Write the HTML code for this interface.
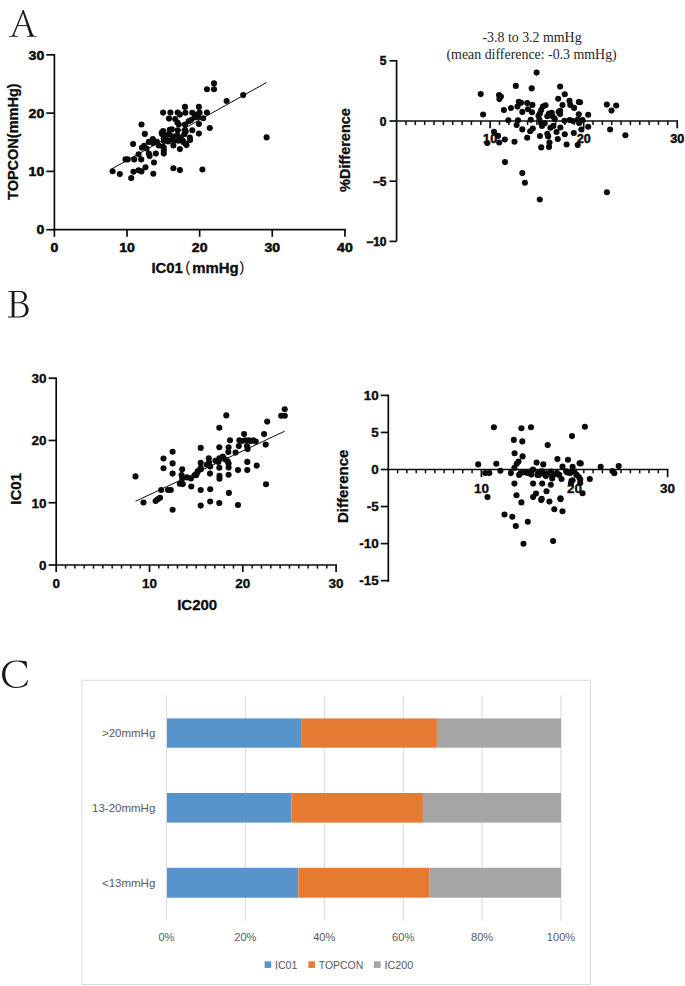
<!DOCTYPE html>
<html><head><meta charset="utf-8"><title>Figure</title>
<style>
html,body{margin:0;padding:0;background:#fff;}
body{width:685px;height:986px;overflow:hidden;}
svg{display:block;}
</style></head>
<body>
<svg width="685" height="986" viewBox="0 0 685 986">
<rect width="685" height="986" fill="#fff"/>
<g fill="#1c1716">
<polygon points="22.9,10.0 23.7,11.4 13.7,36.0 12.2,36.0"/>
<polygon points="22.9,10.0 23.7,10.0 33.3,36.0 30.1,36.0 22.5,11.6"/>
<rect x="17.2" y="25.1" width="10.9" height="1.0"/>
<path d="M9.0,35.9 H18.0 V36.8 H9.0 Z M12.0,35.9 Q12.8,35.3 13.0,34.6 L14.2,34.6 Q14.6,35.5 15.6,35.9 Z"/>
<path d="M26.9,35.9 H36.4 V36.8 H26.9 Z M29.2,35.9 Q29.8,35.4 29.6,34.5 L32.9,34.5 Q33.5,35.5 34.4,35.9 Z"/>
</g>
<path fill="#1c1716" fill-rule="evenodd" d="M8.1,291.0 L20.0,291.0 C24.6,291.0 26.9,293.4 26.9,296.7 C26.9,299.6 24.9,301.7 21.8,302.6 C26.0,303.2 28.6,305.9 28.6,309.7 C28.6,314.4 25.3,317.4 19.6,317.4 L8.1,317.4 L8.1,316.6 L11.7,316.4 L11.7,292.0 L8.1,291.8 Z M14.5,292.0 L19.3,292.0 C22.6,292.0 24.2,294.1 24.2,297.0 C24.2,300.0 22.4,302.2 19.0,302.2 L14.5,302.2 Z M14.5,303.3 L19.3,303.3 C23.5,303.3 25.7,305.8 25.7,309.8 C25.7,314.0 23.3,316.4 19.3,316.4 L14.5,316.4 Z"/>
<path fill="#1c1716" d="M26.6,661.4 C23.5,660.6 19.8,660.4 16.2,660.4 C7.8,660.4 2.0,666.2 2.0,674.2 C2.0,682.3 7.8,687.9 16.0,687.9 C20.2,687.9 24.2,686.6 27.0,684.9 L27.9,680.0 L27.3,680.0 C25.6,684.5 21.8,686.9 16.6,686.9 C9.6,686.9 5.3,681.4 5.3,674.2 C5.3,666.6 9.8,661.4 16.4,661.4 C21.6,661.4 25.2,663.7 26.6,668.3 L27.2,668.3 Z"/>
<line x1="54.40" y1="53.95" x2="54.40" y2="230.55" stroke="#0c0c0c" stroke-width="1.7"/>
<line x1="53.55" y1="229.70" x2="345.75" y2="229.70" stroke="#0c0c0c" stroke-width="1.7"/>
<line x1="46.30" y1="229.70" x2="54.40" y2="229.70" stroke="#0c0c0c" stroke-width="1.7"/>
<text transform="translate(44.20,234.40) scale(1.17,1)" font-family='"Liberation Sans", sans-serif' font-size="12" font-weight="bold" text-anchor="end" fill="#0c0c0c" stroke="#0c0c0c" stroke-width="0.5">0</text>
<line x1="46.30" y1="171.40" x2="54.40" y2="171.40" stroke="#0c0c0c" stroke-width="1.7"/>
<text transform="translate(44.20,176.10) scale(1.17,1)" font-family='"Liberation Sans", sans-serif' font-size="12" font-weight="bold" text-anchor="end" fill="#0c0c0c" stroke="#0c0c0c" stroke-width="0.5">10</text>
<line x1="46.30" y1="113.10" x2="54.40" y2="113.10" stroke="#0c0c0c" stroke-width="1.7"/>
<text transform="translate(44.20,117.80) scale(1.17,1)" font-family='"Liberation Sans", sans-serif' font-size="12" font-weight="bold" text-anchor="end" fill="#0c0c0c" stroke="#0c0c0c" stroke-width="0.5">20</text>
<line x1="46.30" y1="54.80" x2="54.40" y2="54.80" stroke="#0c0c0c" stroke-width="1.7"/>
<text transform="translate(44.20,59.50) scale(1.17,1)" font-family='"Liberation Sans", sans-serif' font-size="12" font-weight="bold" text-anchor="end" fill="#0c0c0c" stroke="#0c0c0c" stroke-width="0.5">30</text>
<line x1="54.40" y1="229.70" x2="54.40" y2="236.80" stroke="#0c0c0c" stroke-width="1.7"/>
<text transform="translate(54.40,251.80) scale(1.17,1)" font-family='"Liberation Sans", sans-serif' font-size="12" font-weight="bold" text-anchor="middle" fill="#0c0c0c" stroke="#0c0c0c" stroke-width="0.5">0</text>
<line x1="127.03" y1="229.70" x2="127.03" y2="236.80" stroke="#0c0c0c" stroke-width="1.7"/>
<text transform="translate(127.03,251.80) scale(1.17,1)" font-family='"Liberation Sans", sans-serif' font-size="12" font-weight="bold" text-anchor="middle" fill="#0c0c0c" stroke="#0c0c0c" stroke-width="0.5">10</text>
<line x1="199.65" y1="229.70" x2="199.65" y2="236.80" stroke="#0c0c0c" stroke-width="1.7"/>
<text transform="translate(199.65,251.80) scale(1.17,1)" font-family='"Liberation Sans", sans-serif' font-size="12" font-weight="bold" text-anchor="middle" fill="#0c0c0c" stroke="#0c0c0c" stroke-width="0.5">20</text>
<line x1="272.27" y1="229.70" x2="272.27" y2="236.80" stroke="#0c0c0c" stroke-width="1.7"/>
<text transform="translate(272.27,251.80) scale(1.17,1)" font-family='"Liberation Sans", sans-serif' font-size="12" font-weight="bold" text-anchor="middle" fill="#0c0c0c" stroke="#0c0c0c" stroke-width="0.5">30</text>
<line x1="344.90" y1="229.70" x2="344.90" y2="236.80" stroke="#0c0c0c" stroke-width="1.7"/>
<text transform="translate(344.90,251.80) scale(1.17,1)" font-family='"Liberation Sans", sans-serif' font-size="12" font-weight="bold" text-anchor="middle" fill="#0c0c0c" stroke="#0c0c0c" stroke-width="0.5">40</text>
<line x1="111.70" y1="168.90" x2="266.60" y2="82.50" stroke="#0c0c0c" stroke-width="1.0"/>
<g fill="#0a0a0a">
<circle cx="112.6" cy="171.2" r="3.05"/>
<circle cx="119.8" cy="174.1" r="3.05"/>
<circle cx="131.2" cy="178.0" r="3.05"/>
<circle cx="133.4" cy="171.7" r="3.05"/>
<circle cx="138.5" cy="170.2" r="3.05"/>
<circle cx="141.5" cy="171.4" r="3.05"/>
<circle cx="145.5" cy="167.3" r="3.05"/>
<circle cx="153.3" cy="173.7" r="3.05"/>
<circle cx="154.0" cy="162.5" r="3.05"/>
<circle cx="173.4" cy="168.3" r="3.05"/>
<circle cx="179.9" cy="170.1" r="3.05"/>
<circle cx="202.4" cy="169.5" r="3.05"/>
<circle cx="141.5" cy="124.5" r="3.05"/>
<circle cx="144.8" cy="133.9" r="3.05"/>
<circle cx="133.1" cy="144.1" r="3.05"/>
<circle cx="125.5" cy="159.4" r="3.05"/>
<circle cx="127.7" cy="159.4" r="3.05"/>
<circle cx="134.2" cy="159.4" r="3.05"/>
<circle cx="141.2" cy="159.4" r="3.05"/>
<circle cx="138.6" cy="154.3" r="3.05"/>
<circle cx="141.9" cy="147.7" r="3.05"/>
<circle cx="144.1" cy="145.9" r="3.05"/>
<circle cx="148.8" cy="141.9" r="3.05"/>
<circle cx="146.5" cy="148.5" r="3.05"/>
<circle cx="152.8" cy="139.0" r="3.05"/>
<circle cx="156.9" cy="141.9" r="3.05"/>
<circle cx="158.7" cy="145.5" r="3.05"/>
<circle cx="148.8" cy="153.6" r="3.05"/>
<circle cx="149.6" cy="156.1" r="3.05"/>
<circle cx="155.8" cy="153.6" r="3.05"/>
<circle cx="163.8" cy="147.7" r="3.05"/>
<circle cx="163.8" cy="150.5" r="3.05"/>
<circle cx="163.8" cy="153.6" r="3.05"/>
<circle cx="163.1" cy="131.0" r="3.05"/>
<circle cx="162.0" cy="134.0" r="3.05"/>
<circle cx="163.8" cy="138.2" r="3.05"/>
<circle cx="167.4" cy="140.4" r="3.05"/>
<circle cx="173.4" cy="145.5" r="3.05"/>
<circle cx="179.9" cy="149.1" r="3.05"/>
<circle cx="186.5" cy="145.1" r="3.05"/>
<circle cx="183.6" cy="142.2" r="3.05"/>
<circle cx="178.5" cy="140.7" r="3.05"/>
<circle cx="190.1" cy="140.0" r="3.05"/>
<circle cx="152.9" cy="142.9" r="3.05"/>
<circle cx="168.2" cy="141.5" r="3.05"/>
<circle cx="185.0" cy="106.9" r="3.05"/>
<circle cx="198.9" cy="106.9" r="3.05"/>
<circle cx="163.1" cy="112.6" r="3.05"/>
<circle cx="170.4" cy="112.6" r="3.05"/>
<circle cx="177.7" cy="112.6" r="3.05"/>
<circle cx="179.9" cy="114.6" r="3.05"/>
<circle cx="185.4" cy="112.8" r="3.05"/>
<circle cx="192.3" cy="112.8" r="3.05"/>
<circle cx="196.7" cy="114.6" r="3.05"/>
<circle cx="169.0" cy="118.6" r="3.05"/>
<circle cx="175.2" cy="119.1" r="3.05"/>
<circle cx="177.4" cy="122.6" r="3.05"/>
<circle cx="178.8" cy="124.5" r="3.05"/>
<circle cx="185.0" cy="124.5" r="3.05"/>
<circle cx="188.7" cy="121.2" r="3.05"/>
<circle cx="190.9" cy="120.1" r="3.05"/>
<circle cx="194.5" cy="117.5" r="3.05"/>
<circle cx="198.9" cy="124.1" r="3.05"/>
<circle cx="161.7" cy="132.8" r="3.05"/>
<circle cx="169.7" cy="129.9" r="3.05"/>
<circle cx="171.9" cy="129.2" r="3.05"/>
<circle cx="177.7" cy="130.3" r="3.05"/>
<circle cx="185.0" cy="129.9" r="3.05"/>
<circle cx="192.3" cy="130.3" r="3.05"/>
<circle cx="198.9" cy="133.6" r="3.05"/>
<circle cx="163.9" cy="136.5" r="3.05"/>
<circle cx="166.5" cy="135.0" r="3.05"/>
<circle cx="169.5" cy="134.0" r="3.05"/>
<circle cx="172.6" cy="136.5" r="3.05"/>
<circle cx="177.7" cy="135.8" r="3.05"/>
<circle cx="180.7" cy="138.0" r="3.05"/>
<circle cx="184.3" cy="134.3" r="3.05"/>
<circle cx="189.8" cy="137.6" r="3.05"/>
<circle cx="163.9" cy="140.9" r="3.05"/>
<circle cx="169.0" cy="140.9" r="3.05"/>
<circle cx="174.0" cy="140.9" r="3.05"/>
<circle cx="182.8" cy="140.9" r="3.05"/>
<circle cx="185.8" cy="143.8" r="3.05"/>
<circle cx="163.1" cy="146.7" r="3.05"/>
<circle cx="226.6" cy="101.0" r="3.05"/>
<circle cx="199.6" cy="112.5" r="3.05"/>
<circle cx="206.9" cy="112.5" r="3.05"/>
<circle cx="196.0" cy="115.8" r="3.05"/>
<circle cx="198.1" cy="116.9" r="3.05"/>
<circle cx="203.2" cy="118.2" r="3.05"/>
<circle cx="209.8" cy="128.0" r="3.05"/>
<circle cx="185.7" cy="131.5" r="3.05"/>
<circle cx="214.0" cy="83.4" r="3.05"/>
<circle cx="207.0" cy="89.3" r="3.05"/>
<circle cx="214.0" cy="89.3" r="3.05"/>
<circle cx="243.2" cy="95.1" r="3.05"/>
<circle cx="266.6" cy="137.4" r="3.05"/>
</g>
<text transform="translate(151.40,272.80) scale(1.03,1)" font-family='"Liberation Sans", sans-serif' font-size="14.5" font-weight="bold" text-anchor="start" fill="#0c0c0c" stroke="#0c0c0c" stroke-width="0.3">IC01</text>
<text transform="translate(185.30,272.30) scale(1.0,1)" font-family='"Liberation Sans", sans-serif' font-size="14.5" font-weight="normal" text-anchor="start" fill="#0c0c0c">(</text>
<text transform="translate(192.20,272.80) scale(1.03,1)" font-family='"Liberation Sans", sans-serif' font-size="14.5" font-weight="bold" text-anchor="start" fill="#0c0c0c" stroke="#0c0c0c" stroke-width="0.3">mmHg</text>
<text transform="translate(239.60,272.30) scale(1.0,1)" font-family='"Liberation Sans", sans-serif' font-size="14.5" font-weight="normal" text-anchor="start" fill="#0c0c0c">)</text>
<text transform="translate(18.3,141.7) rotate(-90)" font-family='"Liberation Sans", sans-serif' font-size="14.5" font-weight="bold" text-anchor="middle" fill="#0c0c0c" stroke="#0c0c0c" stroke-width="0.3">TOPCON(mmHg)</text>
<line x1="396.60" y1="59.95" x2="396.60" y2="241.25" stroke="#0c0c0c" stroke-width="1.7"/>
<line x1="396.60" y1="121.00" x2="678.05" y2="121.00" stroke="#0c0c0c" stroke-width="1.7"/>
<line x1="389.50" y1="60.80" x2="396.60" y2="60.80" stroke="#0c0c0c" stroke-width="1.7"/>
<text transform="translate(386.50,65.30) scale(1.0,1)" font-family='"Liberation Sans", sans-serif' font-size="12" font-weight="bold" text-anchor="end" fill="#0c0c0c" stroke="#0c0c0c" stroke-width="0.5">5</text>
<line x1="389.50" y1="121.00" x2="396.60" y2="121.00" stroke="#0c0c0c" stroke-width="1.7"/>
<text transform="translate(386.50,125.50) scale(1.0,1)" font-family='"Liberation Sans", sans-serif' font-size="12" font-weight="bold" text-anchor="end" fill="#0c0c0c" stroke="#0c0c0c" stroke-width="0.5">0</text>
<line x1="389.50" y1="181.20" x2="396.60" y2="181.20" stroke="#0c0c0c" stroke-width="1.7"/>
<text transform="translate(386.50,185.70) scale(1.0,1)" font-family='"Liberation Sans", sans-serif' font-size="12" font-weight="bold" text-anchor="end" fill="#0c0c0c" stroke="#0c0c0c" stroke-width="0.5">−5</text>
<line x1="389.50" y1="241.40" x2="396.60" y2="241.40" stroke="#0c0c0c" stroke-width="1.7"/>
<text transform="translate(386.50,245.90) scale(1.0,1)" font-family='"Liberation Sans", sans-serif' font-size="12" font-weight="bold" text-anchor="end" fill="#0c0c0c" stroke="#0c0c0c" stroke-width="0.5">−10</text>
<line x1="405.95" y1="121.00" x2="405.95" y2="125.00" stroke="#0c0c0c" stroke-width="1.5"/>
<line x1="415.31" y1="121.00" x2="415.31" y2="125.00" stroke="#0c0c0c" stroke-width="1.5"/>
<line x1="424.66" y1="121.00" x2="424.66" y2="125.00" stroke="#0c0c0c" stroke-width="1.5"/>
<line x1="434.01" y1="121.00" x2="434.01" y2="125.00" stroke="#0c0c0c" stroke-width="1.5"/>
<line x1="443.37" y1="121.00" x2="443.37" y2="125.00" stroke="#0c0c0c" stroke-width="1.5"/>
<line x1="452.72" y1="121.00" x2="452.72" y2="125.00" stroke="#0c0c0c" stroke-width="1.5"/>
<line x1="462.07" y1="121.00" x2="462.07" y2="125.00" stroke="#0c0c0c" stroke-width="1.5"/>
<line x1="471.43" y1="121.00" x2="471.43" y2="125.00" stroke="#0c0c0c" stroke-width="1.5"/>
<line x1="480.78" y1="121.00" x2="480.78" y2="125.00" stroke="#0c0c0c" stroke-width="1.5"/>
<line x1="490.13" y1="121.00" x2="490.13" y2="128.30" stroke="#0c0c0c" stroke-width="1.7"/>
<line x1="499.49" y1="121.00" x2="499.49" y2="125.00" stroke="#0c0c0c" stroke-width="1.5"/>
<line x1="508.84" y1="121.00" x2="508.84" y2="125.00" stroke="#0c0c0c" stroke-width="1.5"/>
<line x1="518.19" y1="121.00" x2="518.19" y2="125.00" stroke="#0c0c0c" stroke-width="1.5"/>
<line x1="527.55" y1="121.00" x2="527.55" y2="125.00" stroke="#0c0c0c" stroke-width="1.5"/>
<line x1="536.90" y1="121.00" x2="536.90" y2="125.00" stroke="#0c0c0c" stroke-width="1.5"/>
<line x1="546.25" y1="121.00" x2="546.25" y2="125.00" stroke="#0c0c0c" stroke-width="1.5"/>
<line x1="555.61" y1="121.00" x2="555.61" y2="125.00" stroke="#0c0c0c" stroke-width="1.5"/>
<line x1="564.96" y1="121.00" x2="564.96" y2="125.00" stroke="#0c0c0c" stroke-width="1.5"/>
<line x1="574.31" y1="121.00" x2="574.31" y2="125.00" stroke="#0c0c0c" stroke-width="1.5"/>
<line x1="583.67" y1="121.00" x2="583.67" y2="128.30" stroke="#0c0c0c" stroke-width="1.7"/>
<line x1="593.02" y1="121.00" x2="593.02" y2="125.00" stroke="#0c0c0c" stroke-width="1.5"/>
<line x1="602.37" y1="121.00" x2="602.37" y2="125.00" stroke="#0c0c0c" stroke-width="1.5"/>
<line x1="611.73" y1="121.00" x2="611.73" y2="125.00" stroke="#0c0c0c" stroke-width="1.5"/>
<line x1="621.08" y1="121.00" x2="621.08" y2="125.00" stroke="#0c0c0c" stroke-width="1.5"/>
<line x1="630.43" y1="121.00" x2="630.43" y2="125.00" stroke="#0c0c0c" stroke-width="1.5"/>
<line x1="639.79" y1="121.00" x2="639.79" y2="125.00" stroke="#0c0c0c" stroke-width="1.5"/>
<line x1="649.14" y1="121.00" x2="649.14" y2="125.00" stroke="#0c0c0c" stroke-width="1.5"/>
<line x1="658.49" y1="121.00" x2="658.49" y2="125.00" stroke="#0c0c0c" stroke-width="1.5"/>
<line x1="667.85" y1="121.00" x2="667.85" y2="125.00" stroke="#0c0c0c" stroke-width="1.5"/>
<line x1="677.20" y1="121.00" x2="677.20" y2="128.30" stroke="#0c0c0c" stroke-width="1.7"/>
<text transform="translate(490.13,143.00) scale(1.05,1)" font-family='"Liberation Sans", sans-serif' font-size="12" font-weight="bold" text-anchor="middle" fill="#0c0c0c" stroke="#0c0c0c" stroke-width="0.5">10</text>
<text transform="translate(583.67,143.00) scale(1.05,1)" font-family='"Liberation Sans", sans-serif' font-size="12" font-weight="bold" text-anchor="middle" fill="#0c0c0c" stroke="#0c0c0c" stroke-width="0.5">20</text>
<text transform="translate(677.20,143.00) scale(1.05,1)" font-family='"Liberation Sans", sans-serif' font-size="12" font-weight="bold" text-anchor="middle" fill="#0c0c0c" stroke="#0c0c0c" stroke-width="0.5">30</text>
<g fill="#0a0a0a">
<circle cx="536.6" cy="72.6" r="3.05"/>
<circle cx="515.8" cy="85.9" r="3.05"/>
<circle cx="531.7" cy="88.4" r="3.05"/>
<circle cx="480.7" cy="94.1" r="3.05"/>
<circle cx="499.0" cy="95.0" r="3.05"/>
<circle cx="499.4" cy="99.1" r="3.05"/>
<circle cx="483.1" cy="114.5" r="3.05"/>
<circle cx="494.0" cy="131.8" r="3.05"/>
<circle cx="498.0" cy="135.9" r="3.05"/>
<circle cx="560.1" cy="86.6" r="3.05"/>
<circle cx="564.8" cy="94.2" r="3.05"/>
<circle cx="562.5" cy="105.0" r="3.05"/>
<circle cx="569.5" cy="100.9" r="3.05"/>
<circle cx="570.3" cy="105.0" r="3.05"/>
<circle cx="574.1" cy="107.9" r="3.05"/>
<circle cx="578.8" cy="102.0" r="3.05"/>
<circle cx="606.8" cy="104.6" r="3.05"/>
<circle cx="560.1" cy="110.8" r="3.05"/>
<circle cx="560.1" cy="114.0" r="3.05"/>
<circle cx="578.8" cy="114.3" r="3.05"/>
<circle cx="588.2" cy="114.7" r="3.05"/>
<circle cx="564.5" cy="120.7" r="3.05"/>
<circle cx="569.7" cy="120.1" r="3.05"/>
<circle cx="577.9" cy="119.6" r="3.05"/>
<circle cx="582.6" cy="120.1" r="3.05"/>
<circle cx="579.1" cy="123.1" r="3.05"/>
<circle cx="560.4" cy="127.5" r="3.05"/>
<circle cx="581.4" cy="129.5" r="3.05"/>
<circle cx="588.2" cy="126.8" r="3.05"/>
<circle cx="564.8" cy="134.2" r="3.05"/>
<circle cx="573.8" cy="133.0" r="3.05"/>
<circle cx="499.2" cy="142.5" r="3.05"/>
<circle cx="487.3" cy="143.1" r="3.05"/>
<circle cx="505.0" cy="162.1" r="3.05"/>
<circle cx="522.3" cy="173.1" r="3.05"/>
<circle cx="524.9" cy="182.8" r="3.05"/>
<circle cx="539.8" cy="199.5" r="3.05"/>
<circle cx="610.1" cy="129.5" r="3.05"/>
<circle cx="625.4" cy="135.3" r="3.05"/>
<circle cx="606.9" cy="192.3" r="3.05"/>
<circle cx="577.7" cy="145.1" r="3.05"/>
<circle cx="566.6" cy="144.5" r="3.05"/>
<circle cx="616.2" cy="105.5" r="3.05"/>
<circle cx="611.5" cy="110.6" r="3.05"/>
<circle cx="580.0" cy="102.2" r="3.05"/>
<circle cx="573.0" cy="121.0" r="3.05"/>
<circle cx="503.9" cy="110.1" r="3.05"/>
<circle cx="510.9" cy="108.0" r="3.05"/>
<circle cx="518.8" cy="101.8" r="3.05"/>
<circle cx="521.0" cy="102.7" r="3.05"/>
<circle cx="517.5" cy="106.6" r="3.05"/>
<circle cx="527.2" cy="103.1" r="3.05"/>
<circle cx="532.4" cy="104.9" r="3.05"/>
<circle cx="522.3" cy="111.9" r="3.05"/>
<circle cx="528.0" cy="109.3" r="3.05"/>
<circle cx="532.0" cy="112.3" r="3.05"/>
<circle cx="508.3" cy="120.2" r="3.05"/>
<circle cx="518.0" cy="120.2" r="3.05"/>
<circle cx="530.7" cy="119.8" r="3.05"/>
<circle cx="516.6" cy="125.0" r="3.05"/>
<circle cx="522.3" cy="129.4" r="3.05"/>
<circle cx="530.2" cy="131.2" r="3.05"/>
<circle cx="532.8" cy="128.5" r="3.05"/>
<circle cx="527.2" cy="137.7" r="3.05"/>
<circle cx="514.5" cy="141.7" r="3.05"/>
<circle cx="504.8" cy="139.5" r="3.05"/>
<circle cx="539.9" cy="136.0" r="3.05"/>
<circle cx="542.9" cy="106.6" r="3.05"/>
<circle cx="545.5" cy="105.3" r="3.05"/>
<circle cx="541.2" cy="110.1" r="3.05"/>
<circle cx="539.9" cy="113.6" r="3.05"/>
<circle cx="538.5" cy="115.8" r="3.05"/>
<circle cx="539.4" cy="119.8" r="3.05"/>
<circle cx="541.2" cy="123.3" r="3.05"/>
<circle cx="542.0" cy="125.9" r="3.05"/>
<circle cx="544.7" cy="123.3" r="3.05"/>
<circle cx="547.3" cy="116.3" r="3.05"/>
<circle cx="549.0" cy="113.6" r="3.05"/>
<circle cx="551.7" cy="112.8" r="3.05"/>
<circle cx="552.6" cy="116.3" r="3.05"/>
<circle cx="554.7" cy="118.9" r="3.05"/>
<circle cx="550.4" cy="127.7" r="3.05"/>
<circle cx="553.4" cy="125.9" r="3.05"/>
<circle cx="547.3" cy="133.8" r="3.05"/>
<circle cx="548.2" cy="136.4" r="3.05"/>
<circle cx="549.5" cy="142.6" r="3.05"/>
<circle cx="549.0" cy="146.9" r="3.05"/>
<circle cx="556.5" cy="132.0" r="3.05"/>
<circle cx="557.8" cy="139.0" r="3.05"/>
<circle cx="558.2" cy="98.8" r="3.05"/>
<circle cx="558.7" cy="111.9" r="3.05"/>
<circle cx="541.2" cy="147.4" r="3.05"/>
<circle cx="500.9" cy="96.6" r="3.05"/>
</g>
<text transform="translate(350.0,150.0) rotate(-90)" font-family='"Liberation Sans", sans-serif' font-size="14.5" font-weight="bold" text-anchor="middle" fill="#0c0c0c" stroke="#0c0c0c" stroke-width="0.3">%Difference</text>
<text transform="translate(532.00,41.60) scale(1.0,1)" font-family='"Liberation Serif", serif' font-size="13.9" font-weight="normal" text-anchor="middle" fill="#262626">-3.8 to 3.2 mmHg</text>
<text transform="translate(531.60,58.60) scale(1.0,1)" font-family='"Liberation Serif", serif' font-size="13.9" font-weight="normal" text-anchor="middle" fill="#262626">(mean difference: -0.3 mmHg)</text>
<line x1="56.20" y1="377.35" x2="56.20" y2="565.85" stroke="#0c0c0c" stroke-width="1.7"/>
<line x1="55.35" y1="565.00" x2="336.95" y2="565.00" stroke="#0c0c0c" stroke-width="1.7"/>
<line x1="48.60" y1="565.00" x2="56.20" y2="565.00" stroke="#0c0c0c" stroke-width="1.7"/>
<text transform="translate(46.60,569.80) scale(1.0,1)" font-family='"Liberation Sans", sans-serif' font-size="13.5" font-weight="bold" text-anchor="end" fill="#0c0c0c" stroke="#0c0c0c" stroke-width="0.35">0</text>
<line x1="48.60" y1="502.73" x2="56.20" y2="502.73" stroke="#0c0c0c" stroke-width="1.7"/>
<text transform="translate(46.60,507.53) scale(1.0,1)" font-family='"Liberation Sans", sans-serif' font-size="13.5" font-weight="bold" text-anchor="end" fill="#0c0c0c" stroke="#0c0c0c" stroke-width="0.35">10</text>
<line x1="48.60" y1="440.47" x2="56.20" y2="440.47" stroke="#0c0c0c" stroke-width="1.7"/>
<text transform="translate(46.60,445.27) scale(1.0,1)" font-family='"Liberation Sans", sans-serif' font-size="13.5" font-weight="bold" text-anchor="end" fill="#0c0c0c" stroke="#0c0c0c" stroke-width="0.35">20</text>
<line x1="48.60" y1="378.20" x2="56.20" y2="378.20" stroke="#0c0c0c" stroke-width="1.7"/>
<text transform="translate(46.60,383.00) scale(1.0,1)" font-family='"Liberation Sans", sans-serif' font-size="13.5" font-weight="bold" text-anchor="end" fill="#0c0c0c" stroke="#0c0c0c" stroke-width="0.35">30</text>
<line x1="56.20" y1="565.00" x2="56.20" y2="572.00" stroke="#0c0c0c" stroke-width="1.7"/>
<line x1="65.53" y1="565.00" x2="65.53" y2="568.60" stroke="#0c0c0c" stroke-width="1.5"/>
<line x1="74.86" y1="565.00" x2="74.86" y2="568.60" stroke="#0c0c0c" stroke-width="1.5"/>
<line x1="84.19" y1="565.00" x2="84.19" y2="568.60" stroke="#0c0c0c" stroke-width="1.5"/>
<line x1="93.52" y1="565.00" x2="93.52" y2="568.60" stroke="#0c0c0c" stroke-width="1.5"/>
<line x1="102.85" y1="565.00" x2="102.85" y2="568.60" stroke="#0c0c0c" stroke-width="1.5"/>
<line x1="112.18" y1="565.00" x2="112.18" y2="568.60" stroke="#0c0c0c" stroke-width="1.5"/>
<line x1="121.51" y1="565.00" x2="121.51" y2="568.60" stroke="#0c0c0c" stroke-width="1.5"/>
<line x1="130.84" y1="565.00" x2="130.84" y2="568.60" stroke="#0c0c0c" stroke-width="1.5"/>
<line x1="140.17" y1="565.00" x2="140.17" y2="568.60" stroke="#0c0c0c" stroke-width="1.5"/>
<line x1="149.50" y1="565.00" x2="149.50" y2="572.00" stroke="#0c0c0c" stroke-width="1.7"/>
<line x1="158.83" y1="565.00" x2="158.83" y2="568.60" stroke="#0c0c0c" stroke-width="1.5"/>
<line x1="168.16" y1="565.00" x2="168.16" y2="568.60" stroke="#0c0c0c" stroke-width="1.5"/>
<line x1="177.49" y1="565.00" x2="177.49" y2="568.60" stroke="#0c0c0c" stroke-width="1.5"/>
<line x1="186.82" y1="565.00" x2="186.82" y2="568.60" stroke="#0c0c0c" stroke-width="1.5"/>
<line x1="196.15" y1="565.00" x2="196.15" y2="568.60" stroke="#0c0c0c" stroke-width="1.5"/>
<line x1="205.48" y1="565.00" x2="205.48" y2="568.60" stroke="#0c0c0c" stroke-width="1.5"/>
<line x1="214.81" y1="565.00" x2="214.81" y2="568.60" stroke="#0c0c0c" stroke-width="1.5"/>
<line x1="224.14" y1="565.00" x2="224.14" y2="568.60" stroke="#0c0c0c" stroke-width="1.5"/>
<line x1="233.47" y1="565.00" x2="233.47" y2="568.60" stroke="#0c0c0c" stroke-width="1.5"/>
<line x1="242.80" y1="565.00" x2="242.80" y2="572.00" stroke="#0c0c0c" stroke-width="1.7"/>
<line x1="252.13" y1="565.00" x2="252.13" y2="568.60" stroke="#0c0c0c" stroke-width="1.5"/>
<line x1="261.46" y1="565.00" x2="261.46" y2="568.60" stroke="#0c0c0c" stroke-width="1.5"/>
<line x1="270.79" y1="565.00" x2="270.79" y2="568.60" stroke="#0c0c0c" stroke-width="1.5"/>
<line x1="280.12" y1="565.00" x2="280.12" y2="568.60" stroke="#0c0c0c" stroke-width="1.5"/>
<line x1="289.45" y1="565.00" x2="289.45" y2="568.60" stroke="#0c0c0c" stroke-width="1.5"/>
<line x1="298.78" y1="565.00" x2="298.78" y2="568.60" stroke="#0c0c0c" stroke-width="1.5"/>
<line x1="308.11" y1="565.00" x2="308.11" y2="568.60" stroke="#0c0c0c" stroke-width="1.5"/>
<line x1="317.44" y1="565.00" x2="317.44" y2="568.60" stroke="#0c0c0c" stroke-width="1.5"/>
<line x1="326.77" y1="565.00" x2="326.77" y2="568.60" stroke="#0c0c0c" stroke-width="1.5"/>
<line x1="336.10" y1="565.00" x2="336.10" y2="572.00" stroke="#0c0c0c" stroke-width="1.7"/>
<text transform="translate(56.20,588.30) scale(1.0,1)" font-family='"Liberation Sans", sans-serif' font-size="13.5" font-weight="bold" text-anchor="middle" fill="#0c0c0c" stroke="#0c0c0c" stroke-width="0.35">0</text>
<text transform="translate(149.50,588.30) scale(1.0,1)" font-family='"Liberation Sans", sans-serif' font-size="13.5" font-weight="bold" text-anchor="middle" fill="#0c0c0c" stroke="#0c0c0c" stroke-width="0.35">10</text>
<text transform="translate(242.80,588.30) scale(1.0,1)" font-family='"Liberation Sans", sans-serif' font-size="13.5" font-weight="bold" text-anchor="middle" fill="#0c0c0c" stroke="#0c0c0c" stroke-width="0.35">20</text>
<text transform="translate(336.10,588.30) scale(1.0,1)" font-family='"Liberation Sans", sans-serif' font-size="13.5" font-weight="bold" text-anchor="middle" fill="#0c0c0c" stroke="#0c0c0c" stroke-width="0.35">30</text>
<line x1="135.50" y1="501.30" x2="284.70" y2="431.20" stroke="#0c0c0c" stroke-width="1.0"/>
<g fill="#0a0a0a">
<circle cx="135.5" cy="476.4" r="3.05"/>
<circle cx="143.5" cy="502.5" r="3.05"/>
<circle cx="155.6" cy="501.0" r="3.05"/>
<circle cx="157.7" cy="499.3" r="3.05"/>
<circle cx="160.0" cy="497.8" r="3.05"/>
<circle cx="161.2" cy="490.0" r="3.05"/>
<circle cx="168.0" cy="490.0" r="3.05"/>
<circle cx="170.8" cy="490.0" r="3.05"/>
<circle cx="172.6" cy="509.8" r="3.05"/>
<circle cx="163.5" cy="458.5" r="3.05"/>
<circle cx="163.5" cy="468.3" r="3.05"/>
<circle cx="172.6" cy="451.7" r="3.05"/>
<circle cx="172.6" cy="463.4" r="3.05"/>
<circle cx="172.6" cy="473.6" r="3.05"/>
<circle cx="182.2" cy="469.2" r="3.05"/>
<circle cx="181.6" cy="475.0" r="3.05"/>
<circle cx="182.2" cy="478.5" r="3.05"/>
<circle cx="179.9" cy="483.8" r="3.05"/>
<circle cx="182.8" cy="484.1" r="3.05"/>
<circle cx="186.9" cy="477.4" r="3.05"/>
<circle cx="191.0" cy="478.5" r="3.05"/>
<circle cx="194.8" cy="475.0" r="3.05"/>
<circle cx="198.0" cy="471.0" r="3.05"/>
<circle cx="200.9" cy="469.2" r="3.05"/>
<circle cx="200.7" cy="462.8" r="3.05"/>
<circle cx="200.7" cy="447.9" r="3.05"/>
<circle cx="191.3" cy="486.5" r="3.05"/>
<circle cx="200.7" cy="490.0" r="3.05"/>
<circle cx="200.7" cy="505.6" r="3.05"/>
<circle cx="226.3" cy="415.4" r="3.05"/>
<circle cx="267.2" cy="421.6" r="3.05"/>
<circle cx="219.3" cy="427.8" r="3.05"/>
<circle cx="244.1" cy="434.1" r="3.05"/>
<circle cx="264.1" cy="434.1" r="3.05"/>
<circle cx="230.0" cy="440.3" r="3.05"/>
<circle cx="239.4" cy="440.3" r="3.05"/>
<circle cx="245.2" cy="440.3" r="3.05"/>
<circle cx="248.7" cy="440.3" r="3.05"/>
<circle cx="253.4" cy="440.3" r="3.05"/>
<circle cx="255.7" cy="441.5" r="3.05"/>
<circle cx="265.7" cy="444.6" r="3.05"/>
<circle cx="238.8" cy="446.1" r="3.05"/>
<circle cx="247.0" cy="446.1" r="3.05"/>
<circle cx="247.6" cy="449.1" r="3.05"/>
<circle cx="219.3" cy="447.3" r="3.05"/>
<circle cx="228.6" cy="447.3" r="3.05"/>
<circle cx="228.3" cy="452.0" r="3.05"/>
<circle cx="235.6" cy="452.6" r="3.05"/>
<circle cx="222.8" cy="456.6" r="3.05"/>
<circle cx="219.3" cy="458.4" r="3.05"/>
<circle cx="208.8" cy="458.4" r="3.05"/>
<circle cx="225.4" cy="459.6" r="3.05"/>
<circle cx="227.7" cy="461.3" r="3.05"/>
<circle cx="209.0" cy="462.5" r="3.05"/>
<circle cx="215.4" cy="460.7" r="3.05"/>
<circle cx="218.4" cy="461.9" r="3.05"/>
<circle cx="228.6" cy="463.6" r="3.05"/>
<circle cx="206.7" cy="464.8" r="3.05"/>
<circle cx="210.2" cy="466.6" r="3.05"/>
<circle cx="219.3" cy="467.7" r="3.05"/>
<circle cx="228.6" cy="467.5" r="3.05"/>
<circle cx="247.3" cy="461.9" r="3.05"/>
<circle cx="256.7" cy="465.6" r="3.05"/>
<circle cx="238.0" cy="470.1" r="3.05"/>
<circle cx="247.3" cy="470.1" r="3.05"/>
<circle cx="200.6" cy="467.7" r="3.05"/>
<circle cx="197.3" cy="472.4" r="3.05"/>
<circle cx="210.0" cy="473.6" r="3.05"/>
<circle cx="219.5" cy="475.9" r="3.05"/>
<circle cx="228.6" cy="474.7" r="3.05"/>
<circle cx="219.5" cy="478.8" r="3.05"/>
<circle cx="266.0" cy="484.3" r="3.05"/>
<circle cx="210.2" cy="489.2" r="3.05"/>
<circle cx="228.9" cy="492.9" r="3.05"/>
<circle cx="210.2" cy="501.5" r="3.05"/>
<circle cx="219.3" cy="503.0" r="3.05"/>
<circle cx="238.0" cy="505.0" r="3.05"/>
<circle cx="196.2" cy="475.2" r="3.05"/>
<circle cx="284.7" cy="409.3" r="3.05"/>
<circle cx="281.2" cy="415.7" r="3.05"/>
<circle cx="284.8" cy="415.7" r="3.05"/>
<circle cx="251.0" cy="441.0" r="3.05"/>
<circle cx="242.0" cy="441.0" r="3.05"/>
</g>
<text transform="translate(197.20,609.70) scale(1.0,1)" font-family='"Liberation Sans", sans-serif' font-size="15" font-weight="bold" text-anchor="middle" fill="#0c0c0c" stroke="#0c0c0c" stroke-width="0.3">IC200</text>
<text transform="translate(21.3,488.8) rotate(-90)" font-family='"Liberation Sans", sans-serif' font-size="15" font-weight="bold" text-anchor="middle" fill="#0c0c0c" stroke="#0c0c0c" stroke-width="0.3">IC01</text>
<line x1="388.30" y1="394.55" x2="388.30" y2="581.95" stroke="#0c0c0c" stroke-width="1.7"/>
<line x1="388.30" y1="469.50" x2="668.45" y2="469.50" stroke="#0c0c0c" stroke-width="1.7"/>
<line x1="380.80" y1="395.40" x2="388.30" y2="395.40" stroke="#0c0c0c" stroke-width="1.7"/>
<text transform="translate(378.80,400.20) scale(1.0,1)" font-family='"Liberation Sans", sans-serif' font-size="13.5" font-weight="bold" text-anchor="end" fill="#0c0c0c" stroke="#0c0c0c" stroke-width="0.35">10</text>
<line x1="380.80" y1="432.45" x2="388.30" y2="432.45" stroke="#0c0c0c" stroke-width="1.7"/>
<text transform="translate(378.80,437.25) scale(1.0,1)" font-family='"Liberation Sans", sans-serif' font-size="13.5" font-weight="bold" text-anchor="end" fill="#0c0c0c" stroke="#0c0c0c" stroke-width="0.35">5</text>
<line x1="380.80" y1="469.50" x2="388.30" y2="469.50" stroke="#0c0c0c" stroke-width="1.7"/>
<text transform="translate(378.80,474.30) scale(1.0,1)" font-family='"Liberation Sans", sans-serif' font-size="13.5" font-weight="bold" text-anchor="end" fill="#0c0c0c" stroke="#0c0c0c" stroke-width="0.35">0</text>
<line x1="380.80" y1="506.55" x2="388.30" y2="506.55" stroke="#0c0c0c" stroke-width="1.7"/>
<text transform="translate(378.80,511.35) scale(1.0,1)" font-family='"Liberation Sans", sans-serif' font-size="13.5" font-weight="bold" text-anchor="end" fill="#0c0c0c" stroke="#0c0c0c" stroke-width="0.35">-5</text>
<line x1="380.80" y1="543.60" x2="388.30" y2="543.60" stroke="#0c0c0c" stroke-width="1.7"/>
<text transform="translate(378.80,548.40) scale(1.0,1)" font-family='"Liberation Sans", sans-serif' font-size="13.5" font-weight="bold" text-anchor="end" fill="#0c0c0c" stroke="#0c0c0c" stroke-width="0.35">-10</text>
<line x1="380.80" y1="580.65" x2="388.30" y2="580.65" stroke="#0c0c0c" stroke-width="1.7"/>
<text transform="translate(378.80,585.45) scale(1.0,1)" font-family='"Liberation Sans", sans-serif' font-size="13.5" font-weight="bold" text-anchor="end" fill="#0c0c0c" stroke="#0c0c0c" stroke-width="0.35">-15</text>
<line x1="397.61" y1="469.50" x2="397.61" y2="473.30" stroke="#0c0c0c" stroke-width="1.5"/>
<line x1="406.92" y1="469.50" x2="406.92" y2="473.30" stroke="#0c0c0c" stroke-width="1.5"/>
<line x1="416.23" y1="469.50" x2="416.23" y2="473.30" stroke="#0c0c0c" stroke-width="1.5"/>
<line x1="425.54" y1="469.50" x2="425.54" y2="473.30" stroke="#0c0c0c" stroke-width="1.5"/>
<line x1="434.85" y1="469.50" x2="434.85" y2="473.30" stroke="#0c0c0c" stroke-width="1.5"/>
<line x1="444.16" y1="469.50" x2="444.16" y2="473.30" stroke="#0c0c0c" stroke-width="1.5"/>
<line x1="453.47" y1="469.50" x2="453.47" y2="473.30" stroke="#0c0c0c" stroke-width="1.5"/>
<line x1="462.78" y1="469.50" x2="462.78" y2="473.30" stroke="#0c0c0c" stroke-width="1.5"/>
<line x1="472.09" y1="469.50" x2="472.09" y2="473.30" stroke="#0c0c0c" stroke-width="1.5"/>
<line x1="481.40" y1="469.50" x2="481.40" y2="477.20" stroke="#0c0c0c" stroke-width="1.7"/>
<line x1="490.71" y1="469.50" x2="490.71" y2="473.30" stroke="#0c0c0c" stroke-width="1.5"/>
<line x1="500.02" y1="469.50" x2="500.02" y2="473.30" stroke="#0c0c0c" stroke-width="1.5"/>
<line x1="509.33" y1="469.50" x2="509.33" y2="473.30" stroke="#0c0c0c" stroke-width="1.5"/>
<line x1="518.64" y1="469.50" x2="518.64" y2="473.30" stroke="#0c0c0c" stroke-width="1.5"/>
<line x1="527.95" y1="469.50" x2="527.95" y2="473.30" stroke="#0c0c0c" stroke-width="1.5"/>
<line x1="537.26" y1="469.50" x2="537.26" y2="473.30" stroke="#0c0c0c" stroke-width="1.5"/>
<line x1="546.57" y1="469.50" x2="546.57" y2="473.30" stroke="#0c0c0c" stroke-width="1.5"/>
<line x1="555.88" y1="469.50" x2="555.88" y2="473.30" stroke="#0c0c0c" stroke-width="1.5"/>
<line x1="565.19" y1="469.50" x2="565.19" y2="473.30" stroke="#0c0c0c" stroke-width="1.5"/>
<line x1="574.50" y1="469.50" x2="574.50" y2="477.20" stroke="#0c0c0c" stroke-width="1.7"/>
<line x1="583.81" y1="469.50" x2="583.81" y2="473.30" stroke="#0c0c0c" stroke-width="1.5"/>
<line x1="593.12" y1="469.50" x2="593.12" y2="473.30" stroke="#0c0c0c" stroke-width="1.5"/>
<line x1="602.43" y1="469.50" x2="602.43" y2="473.30" stroke="#0c0c0c" stroke-width="1.5"/>
<line x1="611.74" y1="469.50" x2="611.74" y2="473.30" stroke="#0c0c0c" stroke-width="1.5"/>
<line x1="621.05" y1="469.50" x2="621.05" y2="473.30" stroke="#0c0c0c" stroke-width="1.5"/>
<line x1="630.36" y1="469.50" x2="630.36" y2="473.30" stroke="#0c0c0c" stroke-width="1.5"/>
<line x1="639.67" y1="469.50" x2="639.67" y2="473.30" stroke="#0c0c0c" stroke-width="1.5"/>
<line x1="648.98" y1="469.50" x2="648.98" y2="473.30" stroke="#0c0c0c" stroke-width="1.5"/>
<line x1="658.29" y1="469.50" x2="658.29" y2="473.30" stroke="#0c0c0c" stroke-width="1.5"/>
<line x1="667.60" y1="469.50" x2="667.60" y2="477.20" stroke="#0c0c0c" stroke-width="1.7"/>
<text transform="translate(481.40,492.60) scale(1.0,1)" font-family='"Liberation Sans", sans-serif' font-size="13.5" font-weight="bold" text-anchor="middle" fill="#0c0c0c" stroke="#0c0c0c" stroke-width="0.35">10</text>
<text transform="translate(574.50,492.60) scale(1.0,1)" font-family='"Liberation Sans", sans-serif' font-size="13.5" font-weight="bold" text-anchor="middle" fill="#0c0c0c" stroke="#0c0c0c" stroke-width="0.35">20</text>
<text transform="translate(667.60,492.60) scale(1.0,1)" font-family='"Liberation Sans", sans-serif' font-size="13.5" font-weight="bold" text-anchor="middle" fill="#0c0c0c" stroke="#0c0c0c" stroke-width="0.35">30</text>
<g fill="#0a0a0a">
<circle cx="493.9" cy="427.2" r="3.05"/>
<circle cx="521.4" cy="428.2" r="3.05"/>
<circle cx="531.0" cy="427.2" r="3.05"/>
<circle cx="513.8" cy="439.9" r="3.05"/>
<circle cx="522.3" cy="441.4" r="3.05"/>
<circle cx="547.7" cy="445.1" r="3.05"/>
<circle cx="514.6" cy="453.3" r="3.05"/>
<circle cx="522.6" cy="456.4" r="3.05"/>
<circle cx="478.2" cy="464.4" r="3.05"/>
<circle cx="496.3" cy="463.8" r="3.05"/>
<circle cx="518.5" cy="461.5" r="3.05"/>
<circle cx="516.7" cy="463.8" r="3.05"/>
<circle cx="536.6" cy="462.6" r="3.05"/>
<circle cx="543.3" cy="464.4" r="3.05"/>
<circle cx="485.2" cy="473.1" r="3.05"/>
<circle cx="489.3" cy="473.1" r="3.05"/>
<circle cx="500.4" cy="470.8" r="3.05"/>
<circle cx="510.9" cy="473.1" r="3.05"/>
<circle cx="514.4" cy="467.9" r="3.05"/>
<circle cx="519.1" cy="474.9" r="3.05"/>
<circle cx="526.1" cy="472.6" r="3.05"/>
<circle cx="530.7" cy="473.7" r="3.05"/>
<circle cx="533.1" cy="469.6" r="3.05"/>
<circle cx="538.9" cy="474.9" r="3.05"/>
<circle cx="545.9" cy="476.1" r="3.05"/>
<circle cx="514.4" cy="483.6" r="3.05"/>
<circle cx="533.1" cy="483.6" r="3.05"/>
<circle cx="542.2" cy="483.6" r="3.05"/>
<circle cx="487.5" cy="497.1" r="3.05"/>
<circle cx="516.5" cy="495.3" r="3.05"/>
<circle cx="536.0" cy="493.6" r="3.05"/>
<circle cx="533.1" cy="497.1" r="3.05"/>
<circle cx="546.5" cy="491.2" r="3.05"/>
<circle cx="584.9" cy="426.8" r="3.05"/>
<circle cx="572.0" cy="436.1" r="3.05"/>
<circle cx="557.4" cy="459.1" r="3.05"/>
<circle cx="568.0" cy="459.7" r="3.05"/>
<circle cx="579.6" cy="463.2" r="3.05"/>
<circle cx="562.5" cy="466.5" r="3.05"/>
<circle cx="572.6" cy="466.7" r="3.05"/>
<circle cx="600.7" cy="466.7" r="3.05"/>
<circle cx="532.3" cy="470.2" r="3.05"/>
<circle cx="538.2" cy="473.1" r="3.05"/>
<circle cx="541.7" cy="471.4" r="3.05"/>
<circle cx="545.2" cy="474.9" r="3.05"/>
<circle cx="548.7" cy="473.7" r="3.05"/>
<circle cx="552.2" cy="478.4" r="3.05"/>
<circle cx="556.9" cy="473.1" r="3.05"/>
<circle cx="559.2" cy="474.9" r="3.05"/>
<circle cx="561.5" cy="479.0" r="3.05"/>
<circle cx="566.2" cy="471.4" r="3.05"/>
<circle cx="569.7" cy="473.1" r="3.05"/>
<circle cx="574.4" cy="471.4" r="3.05"/>
<circle cx="576.7" cy="474.9" r="3.05"/>
<circle cx="579.1" cy="477.2" r="3.05"/>
<circle cx="580.2" cy="479.6" r="3.05"/>
<circle cx="589.8" cy="479.0" r="3.05"/>
<circle cx="550.8" cy="484.8" r="3.05"/>
<circle cx="571.5" cy="480.7" r="3.05"/>
<circle cx="580.2" cy="483.1" r="3.05"/>
<circle cx="582.6" cy="493.3" r="3.05"/>
<circle cx="560.4" cy="498.2" r="3.05"/>
<circle cx="541.7" cy="498.8" r="3.05"/>
<circle cx="521.4" cy="502.4" r="3.05"/>
<circle cx="541.2" cy="500.1" r="3.05"/>
<circle cx="549.4" cy="501.6" r="3.05"/>
<circle cx="504.5" cy="514.5" r="3.05"/>
<circle cx="512.3" cy="516.8" r="3.05"/>
<circle cx="515.8" cy="526.1" r="3.05"/>
<circle cx="527.8" cy="521.7" r="3.05"/>
<circle cx="523.5" cy="543.7" r="3.05"/>
<circle cx="560.6" cy="499.3" r="3.05"/>
<circle cx="554.3" cy="509.2" r="3.05"/>
<circle cx="562.5" cy="511.3" r="3.05"/>
<circle cx="553.1" cy="541.0" r="3.05"/>
<circle cx="570.9" cy="483.5" r="3.05"/>
<circle cx="618.7" cy="466.0" r="3.05"/>
<circle cx="612.4" cy="471.0" r="3.05"/>
<circle cx="614.3" cy="473.3" r="3.05"/>
<circle cx="580.7" cy="463.4" r="3.05"/>
<circle cx="521.8" cy="472.8" r="3.05"/>
<circle cx="528.8" cy="473.3" r="3.05"/>
<circle cx="531.4" cy="474.6" r="3.05"/>
<circle cx="537.5" cy="475.0" r="3.05"/>
<circle cx="540.1" cy="473.3" r="3.05"/>
<circle cx="542.8" cy="472.4" r="3.05"/>
<circle cx="556.8" cy="474.2" r="3.05"/>
<circle cx="567.3" cy="472.4" r="3.05"/>
<circle cx="570.8" cy="472.4" r="3.05"/>
<circle cx="572.6" cy="480.3" r="3.05"/>
<circle cx="553.5" cy="474.5" r="3.05"/>
<circle cx="551.0" cy="471.5" r="3.05"/>
</g>
<text transform="translate(348.4,486.3) rotate(-90)" font-family='"Liberation Sans", sans-serif' font-size="15" font-weight="bold" text-anchor="middle" fill="#0c0c0c" stroke="#0c0c0c" stroke-width="0.3">Difference</text>
<rect x="82.0" y="680.3" width="508.4" height="304.2" fill="#fff" stroke="#d9d9d9" stroke-width="1"/>
<line x1="166.40" y1="695.6" x2="166.40" y2="921.0" stroke="#d9d9d9" stroke-width="1"/>
<line x1="245.32" y1="695.6" x2="245.32" y2="921.0" stroke="#d9d9d9" stroke-width="1"/>
<line x1="324.24" y1="695.6" x2="324.24" y2="921.0" stroke="#d9d9d9" stroke-width="1"/>
<line x1="403.16" y1="695.6" x2="403.16" y2="921.0" stroke="#d9d9d9" stroke-width="1"/>
<line x1="482.08" y1="695.6" x2="482.08" y2="921.0" stroke="#d9d9d9" stroke-width="1"/>
<line x1="561.00" y1="695.6" x2="561.00" y2="921.0" stroke="#d9d9d9" stroke-width="1"/>
<rect x="167.0" y="718.4" width="134.80" height="29.30" fill="#5794cc"/>
<rect x="301.8" y="718.4" width="135.10" height="29.30" fill="#e57b33"/>
<rect x="436.9" y="718.4" width="124.10" height="29.30" fill="#a5a5a5"/>
<rect x="167.0" y="793.0" width="124.50" height="29.60" fill="#5794cc"/>
<rect x="291.5" y="793.0" width="131.40" height="29.60" fill="#e57b33"/>
<rect x="422.9" y="793.0" width="138.10" height="29.60" fill="#a5a5a5"/>
<rect x="167.0" y="867.8" width="131.30" height="29.90" fill="#5794cc"/>
<rect x="298.3" y="867.8" width="130.90" height="29.90" fill="#e57b33"/>
<rect x="429.2" y="867.8" width="131.80" height="29.90" fill="#a5a5a5"/>
<text transform="translate(155.30,737.25) scale(0.975,1)" font-family='"Liberation Sans", sans-serif' font-size="11.8" font-weight="normal" text-anchor="end" fill="#595959">&gt;20mmHg</text>
<text transform="translate(155.30,812.00) scale(0.975,1)" font-family='"Liberation Sans", sans-serif' font-size="11.8" font-weight="normal" text-anchor="end" fill="#595959">13-20mmHg</text>
<text transform="translate(155.30,886.95) scale(0.975,1)" font-family='"Liberation Sans", sans-serif' font-size="11.8" font-weight="normal" text-anchor="end" fill="#595959">&lt;13mmHg</text>
<text transform="translate(166.40,940.50) scale(0.94,1)" font-family='"Liberation Sans", sans-serif' font-size="11.8" font-weight="normal" text-anchor="middle" fill="#595959">0%</text>
<text transform="translate(245.32,940.50) scale(0.94,1)" font-family='"Liberation Sans", sans-serif' font-size="11.8" font-weight="normal" text-anchor="middle" fill="#595959">20%</text>
<text transform="translate(324.24,940.50) scale(0.94,1)" font-family='"Liberation Sans", sans-serif' font-size="11.8" font-weight="normal" text-anchor="middle" fill="#595959">40%</text>
<text transform="translate(403.16,940.50) scale(0.94,1)" font-family='"Liberation Sans", sans-serif' font-size="11.8" font-weight="normal" text-anchor="middle" fill="#595959">60%</text>
<text transform="translate(482.08,940.50) scale(0.94,1)" font-family='"Liberation Sans", sans-serif' font-size="11.8" font-weight="normal" text-anchor="middle" fill="#595959">80%</text>
<text transform="translate(561.00,940.50) scale(0.94,1)" font-family='"Liberation Sans", sans-serif' font-size="11.8" font-weight="normal" text-anchor="middle" fill="#595959">100%</text>
<rect x="264.6" y="961.3" width="6.6" height="6.6" fill="#5794cc"/>
<text transform="translate(275.00,968.80) scale(0.9,1)" font-family='"Liberation Sans", sans-serif' font-size="11.8" font-weight="normal" text-anchor="start" fill="#595959">IC01</text>
<rect x="308.4" y="961.3" width="6.6" height="6.6" fill="#e57b33"/>
<text transform="translate(318.80,968.80) scale(0.885,1)" font-family='"Liberation Sans", sans-serif' font-size="11.8" font-weight="normal" text-anchor="start" fill="#595959">TOPCON</text>
<rect x="374.0" y="961.3" width="6.6" height="6.6" fill="#a5a5a5"/>
<text transform="translate(384.40,968.80) scale(0.92,1)" font-family='"Liberation Sans", sans-serif' font-size="11.8" font-weight="normal" text-anchor="start" fill="#595959">IC200</text>
</svg>
</body></html>
